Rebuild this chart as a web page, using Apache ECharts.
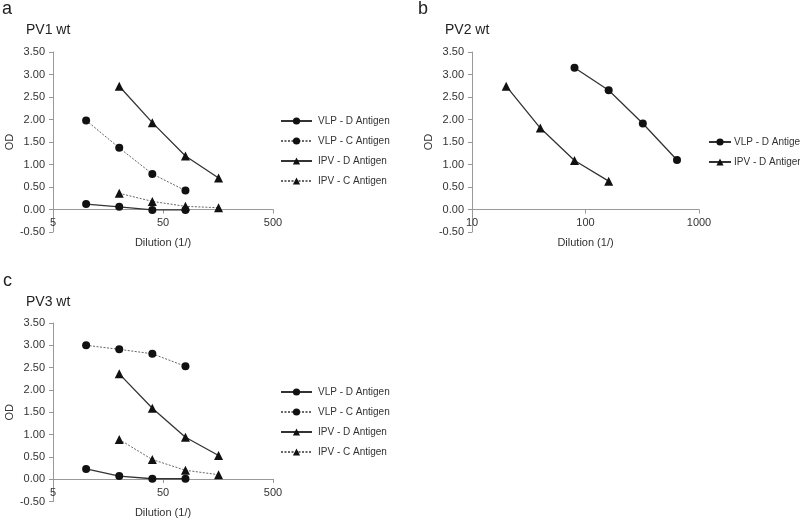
<!DOCTYPE html>
<html>
<head>
<meta charset="utf-8">
<script src="https://cdn.jsdelivr.net/npm/echarts@6/dist/echarts.min.js"></script>
<style>html,body{margin:0;padding:0;background:#fff;}#c{width:800px;height:519px;}</style>
</head>
<body>
<div id="c"></div>
<script>
// ---- data ----
const dilVLP_ac = [10, 20, 40, 80];
const dilIPV_ac = [20, 40, 80, 160];
const dilVLP_b = [80, 160, 320, 640];
const dilIPV_b = [20, 40, 80, 160];

const pv1_vlpD = [0.12, 0.06, -0.01, -0.01];
const pv1_vlpC = [1.98, 1.37, 0.79, 0.42];
const pv1_ipvD = [2.74, 1.93, 1.19, 0.70];
const pv1_ipvC = [0.36, 0.18, 0.07, 0.04];

const pv2_vlpD = [3.15, 2.65, 1.91, 1.10];
const pv2_ipvD = [2.74, 1.81, 1.09, 0.63];

const pv3_vlpD = [0.23, 0.07, 0.01, 0.01];
const pv3_vlpC = [3.00, 2.91, 2.81, 2.53];
const pv3_ipvD = [2.36, 1.59, 0.94, 0.53];
const pv3_ipvC = [0.89, 0.44, 0.20, 0.10];

const xTicks_ac = [5, 50, 500];
const xTicks_b = [10, 100, 1000];
const yMin = -0.5, yMax = 3.5, yStep = 0.5;

const panelLetters = ['a', 'b', 'c'];
const panelTitles = ['PV1 wt', 'PV2 wt', 'PV3 wt'];
const legendNamesFull = ['VLP - D Antigen', 'VLP - C Antigen', 'IPV - D Antigen', 'IPV - C Antigen'];
const legendNamesB = ['VLP - D Antigen', 'IPV - D Antigen'];
const xName = 'Dilution (1/)';
const yName = 'OD';

// ---- build ----
const FONT = 'Liberation Sans, Arial, sans-serif';
const pair = (xs, ys) => xs.map((x, i) => [x, ys[i]]);

const grids = [
  {left: 53, top: 52, width: 220, height: 180},
  {left: 472, top: 52, width: 227, height: 180},
  {left: 53, top: 323, width: 220, height: 180}
];

function xAxis(gi, mn, mx, ticks) {
  // place the axis on y = 0 (Excel style)
  const off = -grids[gi].height * (0 - yMin) / (yMax - yMin);
  return {
    type: 'log', logBase: 10, gridIndex: gi, min: mn, max: mx,
    position: 'bottom', offset: off,
    name: xName, nameLocation: 'middle', nameGap: 28,
    nameTextStyle: {fontFamily: FONT, fontSize: 11, color: '#333'},
    axisLine: {onZero: false, lineStyle: {color: '#999', width: 1}},
    axisTick: {show: true, inside: false, length: 4, customValues: ticks, lineStyle: {color: '#999'}},
    axisLabel: {customValues: ticks, fontFamily: FONT, fontSize: 11, color: '#333', margin: 8,
      formatter: v => String(v)},
    minorTick: {show: false}, splitLine: {show: false}
  };
}
function yAxis(gi) {
  return {
    type: 'value', gridIndex: gi, min: yMin, max: yMax, interval: yStep,
    name: yName, nameLocation: 'middle', nameGap: 38, nameRotate: 90,
    nameTextStyle: {fontFamily: FONT, fontSize: 11, color: '#333'},
    axisLine: {show: true, lineStyle: {color: '#999', width: 1}},
    axisTick: {show: true, inside: false, length: 4, lineStyle: {color: '#999'}},
    axisLabel: {fontFamily: FONT, fontSize: 11, color: '#333', margin: 8,
      formatter: v => v.toFixed(2)},
    splitLine: {show: false}
  };
}

function ser(name, gi, xs, ys, sym, dotted) {
  return {
    name: name, type: 'line', xAxisIndex: gi, yAxisIndex: gi,
    data: pair(xs, ys), symbol: sym, symbolSize: sym === 'circle' ? 8 : 9,
    showSymbol: true,
    itemStyle: {color: '#111', borderWidth: 0},
    lineStyle: dotted ? {color: '#666', width: 1, type: [2, 1.5]} : {color: '#333', width: 1.3, type: 'solid'},
    emphasis: {disabled: true}, animation: false, z: dotted ? 2 : 3
  };
}

const titles = [];
const letterPos = [[2, 0], [418, 0], [3, 272]];
const titlePos = [[26, 23], [445, 23], [26, 295]];
for (let i = 0; i < 3; i++) {
  titles.push({text: panelLetters[i], left: letterPos[i][0], top: letterPos[i][1], padding: 0,
    textStyle: {fontFamily: FONT, fontSize: 18, fontWeight: 'normal', color: '#222'}});
  titles.push({text: panelTitles[i], left: titlePos[i][0], top: titlePos[i][1], padding: 0,
    textStyle: {fontFamily: FONT, fontSize: 14, fontWeight: 'normal', color: '#222'}});
}

function legend(li, names, left, top, itemW, textPad) {
  return {
    data: names, orient: 'vertical', left: left, top: top, padding: 0,
    itemWidth: itemW, itemHeight: 9, itemGap: 10, selectedMode: false,
    textStyle: {fontFamily: FONT, fontSize: 10, color: '#333', padding: [0, 0, 0, textPad]}
  };
}

const option = {
  backgroundColor: '#fff',
  animation: false,
  title: titles,
  grid: grids,
  xAxis: [xAxis(0, 5, 500, xTicks_ac), xAxis(1, 10, 1000, xTicks_b), xAxis(2, 5, 500, xTicks_ac)],
  yAxis: [yAxis(0), yAxis(1), yAxis(2)],
  legend: [
    legend(0, legendNamesFull, 280, 116, 31, 1),
    legend(1, legendNamesB, 708, 137, 22, -2),
    legend(2, legendNamesFull, 280, 387, 31, 1)
  ],
  series: [
    ser('VLP - D Antigen', 0, dilVLP_ac, pv1_vlpD, 'circle', false),
    ser('VLP - C Antigen', 0, dilVLP_ac, pv1_vlpC, 'circle', true),
    ser('IPV - D Antigen', 0, dilIPV_ac, pv1_ipvD, 'triangle', false),
    ser('IPV - C Antigen', 0, dilIPV_ac, pv1_ipvC, 'triangle', true),
    ser('VLP - D Antigen', 1, dilVLP_b, pv2_vlpD, 'circle', false),
    ser('IPV - D Antigen', 1, dilIPV_b, pv2_ipvD, 'triangle', false),
    ser('VLP - D Antigen', 2, dilVLP_ac, pv3_vlpD, 'circle', false),
    ser('VLP - C Antigen', 2, dilVLP_ac, pv3_vlpC, 'circle', true),
    ser('IPV - D Antigen', 2, dilIPV_ac, pv3_ipvD, 'triangle', false),
    ser('IPV - C Antigen', 2, dilIPV_ac, pv3_ipvC, 'triangle', true)
  ]
};
const chart = echarts.init(document.getElementById('c'), null, {renderer: 'canvas'});
chart.setOption(option);
</script>
</body>
</html>
